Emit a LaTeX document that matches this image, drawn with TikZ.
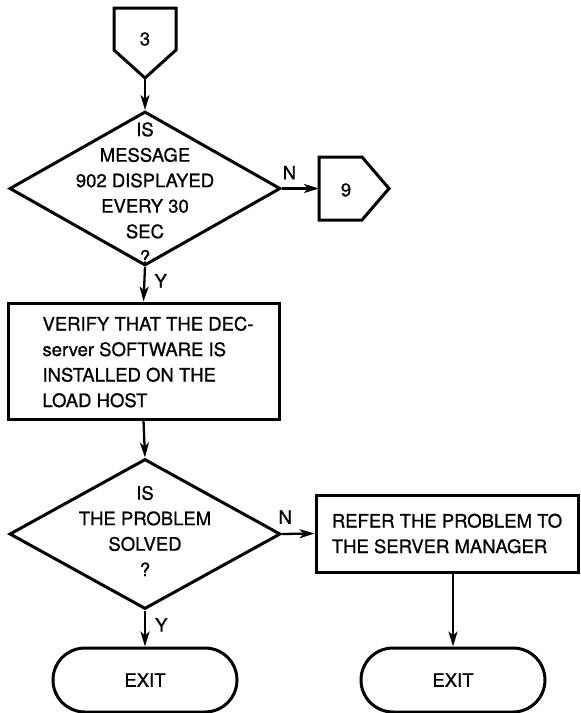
\documentclass[tikz,border=0pt]{standalone}
\usepackage{fontspec}
\setmainfont{TeX Gyre Heros}[FakeBold=0.8]
\usetikzlibrary{shapes.geometric,arrows.meta}

\begin{document}
\begin{tikzpicture}[x=1pt,y=-1pt,
        txt/.style={font=\fontsize{18.5}{25.5}\selectfont,align=center,inner sep=0pt},
        box/.style={draw,line width=3pt,line join=miter},
        decision/.style={box,diamond,inner sep=0pt,minimum width=271pt,minimum height=154pt},
        process/.style={box,rectangle,txt,align=left},
        terminal/.style={box,rectangle,rounded corners=32pt,txt,minimum width=184pt,minimum height=64pt},
        flow/.style={line width=2.3pt,-{Stealth[length=15pt,width=9pt,inset=4pt]}},
        yn/.style={txt,inner sep=3pt}]
    \useasboundingbox (0,0) rectangle (581,713);

    % off-page connector 3
    \draw[box] (114,8) -- (176,8) -- (176,50) -- (145,78) -- (114,50) -- cycle;
    \node[txt] at (145,39) (c3) {3};
    \coordinate (c3tip) at (145,78);

    % first question
    \node[decision] at (145,188.5) (q1) {};
    \node[txt] at (145,193) (q1txt) {IS\\MESSAGE\\902 DISPLAYED\\EVERY 30\\SEC\\?};

    % off-page connector 9
    \draw[box] (319,157) -- (362,157) -- (389,188.5) -- (362,220) -- (319,220) -- cycle;
    \node[txt] at (346,190) (c9) {9};
    \coordinate (c9in) at (319,188.5);

    \node[process,minimum width=271pt,minimum height=116pt] at (143.5,361) (verify) {};
    \node[txt,align=left] at (148,362) (verifytxt)
        {VERIFY THAT THE DEC-\\server SOFTWARE IS\\INSTALLED ON THE\\LOAD HOST};

    % second question
    \node[decision,minimum height=150pt] at (145,534) (q2) {};
    \node[txt] at (145,531) (q2txt) {IS\\THE PROBLEM\\SOLVED\\?};

    \node[process,minimum width=262pt,minimum height=77pt] at (447,533.5) (refer)
        {REFER THE PROBLEM TO\\THE SERVER MANAGER};

    \node[terminal] at (145,680) (exit1) {EXIT};
    \node[terminal] at (453,680) (exit2) {EXIT};

    \draw[flow] (c3tip) -- (q1.north);
    \draw[flow] (q1.east) -- node[yn,pos=0.2,above=5pt] {N} (c9in);
    \draw[flow] (q1.south) -- node[yn,pos=0.4,right=6pt] {Y} (verify.north);
    \draw[flow] (verify.south) -- (q2.north);
    \draw[flow] (q2.east) -- node[yn,pos=0.1,above=6pt] {N} (refer.west);
    \draw[flow] (q2.south) -- node[yn,pos=0.4,right=6pt] {Y} (exit1.north);
    \draw[flow] (refer.south -| exit2.north) -- (exit2.north);
\end{tikzpicture}
\end{document}
